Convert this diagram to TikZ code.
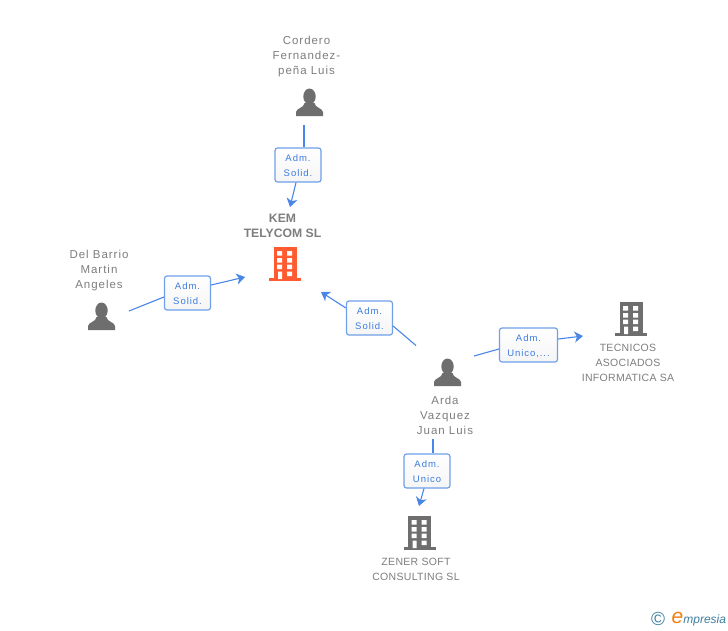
\documentclass[tikz,border=0pt]{standalone}
\usepackage{fontspec}
\setmainfont{Liberation Sans}
\newfontfamily\pname[LetterSpace=8.5]{Liberation Sans}
\newfontfamily\bname[LetterSpace=10]{Liberation Sans}
\newfontfamily\cname[LetterSpace=3]{Liberation Sans}
\newfontfamily\mname{Liberation Sans}
\newfontfamily\logofont{Liberation Sans}
\usetikzlibrary{arrows.meta}
\definecolor{linkblue}{HTML}{4A86E8}
\definecolor{boxedge}{HTML}{6FA0E8}
\definecolor{boxtext}{HTML}{3C7CE0}
\definecolor{iconGrey}{HTML}{6E6E6E}
\definecolor{textGrey}{HTML}{7E7E7E}
\definecolor{kemOrange}{HTML}{FF5A30}
\definecolor{logoTeal}{HTML}{3F7F9F}
\definecolor{logoOrange}{HTML}{F08010}
\tikzset{
  x=1pt,y=-1pt,
  personlabel/.style={align=center,text=textGrey,inner sep=0pt,font=\pname\fontsize{11.5}{15}\selectfont},
  companylabel/.style={align=center,text=textGrey,inner sep=0pt,font=\cname\fontsize{10.5}{15}\selectfont},
  mainlabel/.style={align=center,text=textGrey,inner sep=0pt,font=\mname\bfseries\fontsize{12.2}{15}\selectfont},
  rolebox/.style={draw=boxedge,line width=1.2pt,rounded corners=2.5pt,top color=white,bottom color=white!96!black,
    text=boxtext,align=center,inner sep=0pt,minimum height=34pt,font=\bname\fontsize{9.5}{15}\selectfont},
  link/.style={draw=linkblue,line width=1.1pt},
  linkarrow/.style={link,-{Stealth[length=8.5pt,width=11pt,inset=2.5pt]}},
}
\newcommand{\roletext}[2]{\rule{0pt}{9pt}#1\\#2}
\newcommand{\personicon}[2]{%
  \begin{scope}[shift={(#1,#2)}]
    \fill[iconGrey] (0,7.5) ellipse [x radius=6.2,y radius=8];
    \fill[iconGrey] (-13.5,27) -- (-13.5,23) .. controls (-13,19) and (-5.5,19) .. (-5,14) -- (5,14) .. controls (5.5,19) and (13,19) .. (13.5,23) -- (13.5,27) -- cycle;
  \end{scope}}
\newcommand{\buildingicon}[3]{%
  \begin{scope}[shift={(#1,#2)}]
    \fill[#3] (-11.5,0) rectangle (11.5,31);
    \fill[#3] (-16,31) rectangle (16,33.5);
    \fill[white] (-8,4) rectangle (-3,8.5) (2,4) rectangle (7,8.5)
      (-8,11) rectangle (-3,15.5) (2,11) rectangle (7,15.5)
      (-8,17.5) rectangle (-3,22) (2,17.5) rectangle (7,22)
      (-7,24.5) rectangle (-3,32) (2,24.5) rectangle (7,29);
  \end{scope}}
\begin{document}
\begin{tikzpicture}
\useasboundingbox[fill=white] (0,0) rectangle (728,630);

% icons
\personicon{309.5}{89}
\personicon{101.5}{303}
\personicon{447.5}{359}
\buildingicon{285}{247}{kemOrange}
\buildingicon{631}{302}{iconGrey}
\buildingicon{419.5}{516}{iconGrey}

% labels
\node[personlabel] (cordero) at (306.5,57) {Cordero\\Fernandez-\\peña Luis};
\node[personlabel] (barrio) at (99,271) {Del Barrio\\Martin\\Angeles};
\node[personlabel] (arda) at (445,415) {Arda\\Vazquez\\Juan Luis};
\node[mainlabel] (kem) at (282.5,225.5) {KEM\\TELYCOM SL};
\node[companylabel] (tecnicos) at (628,363) {TECNICOS\\ASOCIADOS\\INFORMATICA SA};
\node[companylabel] (zener) at (416,569.5) {ZENER SOFT\\CONSULTING SL};

% role boxes
\node[rolebox,minimum width=46pt] (r1) at (298,165) {\roletext{Adm.}{Solid.}};
\node[rolebox,minimum width=46pt] (r2) at (187.5,293) {\roletext{Adm.}{Solid.}};
\node[rolebox,minimum width=46pt] (r3) at (369.5,318) {\roletext{Adm.}{Solid.}};
\node[rolebox,minimum width=58pt] (r4) at (528.5,345) {\roletext{Adm.}{Unico,...}};
\node[rolebox,minimum width=46pt] (r5) at (427,471) {\roletext{Adm.}{Unico}};

% connector ends
\coordinate (s1) at (304,125);  \coordinate (e1) at (290,207);
\coordinate (s2) at (129,311);  \coordinate (e2) at (245,277);
\coordinate (s3) at (416,345.5);\coordinate (e3) at (321,292);
\coordinate (s4) at (474,356);  \coordinate (e4) at (583,336);
\coordinate (s5) at (433,439);  \coordinate (e5) at (419,506);

% connectors
\draw[link] (s1) -- (r1.north -| s1);
\draw[linkarrow] ([xshift=-2pt]r1.south) -- (e1);
\draw[link] (s2) -- ([yshift=-4pt]r2.west);
\draw[linkarrow] ([yshift=8pt]r2.east) -- (e2);
\draw[link] (s3) -- ([yshift=-8pt]r3.east);
\draw[linkarrow] ([yshift=10pt]r3.west) -- (e3);
\draw[link] (s4) -- ([yshift=-4pt]r4.west);
\draw[linkarrow] ([yshift=6pt]r4.east) -- (e4);
\draw[link] (s5) -- (r5.north -| s5);
\draw[linkarrow] ([xshift=-3pt]r5.south) -- (e5);

% logo
\node[inner sep=0pt,text=logoTeal,font=\mname\fontsize{19}{19}\selectfont] (copy) at (658,618.5) {©};
\node[inner sep=0pt,anchor=base west,text=logoTeal,font=\logofont\itshape\fontsize{12}{15}\selectfont] (brand) at (671.5,623) {{\color{logoOrange}\fontsize{21}{15}\selectfont e}mpresia};
\end{tikzpicture}
\end{document}
